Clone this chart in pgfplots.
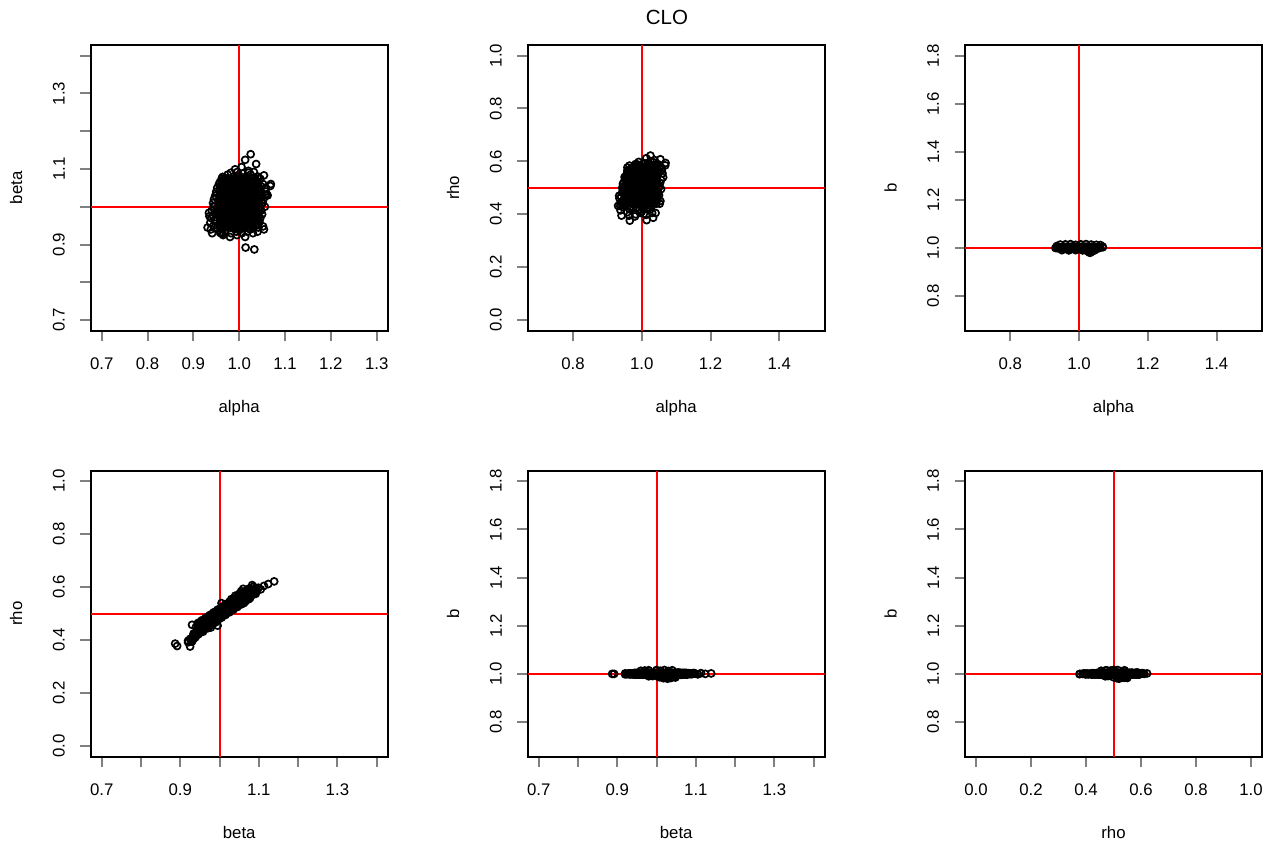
\documentclass[border=0pt]{standalone}
\usepackage{fontspec}
\setmainfont{Liberation Sans}
\usepackage{pgfplots}
\usepackage{pgfplotstable}
\pgfplotsset{compat=1.18}
\pgfplotstableread{
a be r bb
1.025 1.139 0.622 1.002
1.013 1.124 0.612 1.000
1.037 1.113 0.605 1.003
0.991 1.099 0.598 1.001
1.005 1.105 0.592 0.998
1.020 1.095 0.588 1.004
0.964 1.079 0.565 1.000
1.054 1.083 0.608 1.002
0.975 1.085 0.572 0.999
0.988 1.080 0.588 1.003
1.000 1.082 0.575 1.001
1.012 1.078 0.560 0.997
1.025 1.085 0.601 1.002
1.040 1.080 0.585 1.000
0.975 1.075 0.578 1.000
0.982 1.090 0.585 1.000
0.996 1.092 0.575 1.002
1.008 1.088 0.592 0.999
1.020 1.090 0.578 1.001
1.032 1.092 0.598 1.000
0.962 1.070 0.558 1.000
0.974 1.072 0.575 1.002
0.986 1.068 0.562 0.999
0.998 1.074 0.580 1.001
1.010 1.070 0.565 1.003
1.022 1.072 0.585 0.998
1.034 1.068 0.570 1.000
1.046 1.074 0.590 1.002
0.956 1.060 0.552 1.001
1.069 1.060 0.594 1.003
0.968 1.062 0.540 0.998
0.980 1.058 0.565 1.004
0.992 1.065 0.548 1.000
1.004 1.060 0.570 1.002
1.016 1.062 0.555 0.996
1.028 1.058 0.575 1.001
1.040 1.065 0.560 1.003
1.052 1.060 0.580 0.999
0.952 1.050 0.535 1.000
0.964 1.052 0.555 1.002
0.976 1.048 0.538 0.999
0.988 1.054 0.560 1.001
1.000 1.050 0.545 1.003
1.012 1.046 0.530 0.998
1.024 1.052 0.558 1.000
1.036 1.048 0.540 0.985
1.048 1.054 0.565 1.002
1.058 1.050 0.575 1.000
0.950 1.040 0.541 1.000
0.962 1.042 0.525 1.002
0.974 1.038 0.548 0.998
0.986 1.044 0.532 1.001
0.998 1.040 0.556 1.003
1.010 1.036 0.540 0.997
1.022 1.044 0.562 1.002
1.034 1.038 0.530 0.984
1.046 1.042 0.550 1.000
1.058 1.040 0.568 1.004
1.060 1.030 0.555 1.001
0.948 1.030 0.522 1.001
0.960 1.032 0.540 0.999
0.972 1.028 0.515 1.002
0.984 1.034 0.545 1.000
0.996 1.030 0.525 0.997
1.008 1.026 0.512 1.003
1.020 1.032 0.538 1.000
1.032 1.028 0.520 0.980
1.044 1.034 0.548 1.002
1.056 1.030 0.530 0.999
0.945 1.020 0.515 1.001
0.957 1.022 0.532 0.999
0.969 1.018 0.508 1.003
0.981 1.024 0.538 1.000
0.993 1.020 0.520 0.996
1.005 1.016 0.505 1.002
1.017 1.022 0.528 0.999
1.029 1.018 0.512 0.982
1.041 1.024 0.535 1.003
1.053 1.020 0.518 1.000
0.943 1.010 0.500 1.000
0.955 1.012 0.518 1.002
0.967 1.008 0.495 0.999
0.979 1.014 0.525 1.001
0.991 1.010 0.505 1.003
1.003 1.006 0.490 0.998
1.015 1.012 0.520 1.000
1.027 1.008 0.500 0.986
1.039 1.014 0.528 1.002
1.051 1.010 0.505 1.000
0.934 0.984 0.470 1.000
0.944 1.000 0.485 1.002
0.956 1.002 0.505 0.998
0.968 0.998 0.480 1.001
0.980 1.004 0.512 1.003
0.992 1.000 0.495 0.999
1.004 0.996 0.478 1.002
1.016 1.002 0.508 0.997
1.028 0.998 0.490 1.001
1.040 1.004 0.515 0.988
1.056 1.000 0.495 1.002
0.990 1.005 0.540 1.000
1.010 0.995 0.455 1.001
0.940 0.990 0.468 1.001
0.952 0.992 0.490 0.999
0.964 0.988 0.472 1.002
0.976 0.994 0.500 1.000
0.988 0.990 0.480 0.997
1.000 0.986 0.465 1.003
1.012 0.992 0.495 1.000
1.024 0.988 0.475 0.998
1.036 0.994 0.502 1.001
1.048 0.990 0.482 1.002
0.942 0.978 0.448 0.999
0.954 0.982 0.475 1.002
0.966 0.978 0.460 1.000
0.978 0.984 0.490 1.004
0.990 0.980 0.470 0.998
1.002 0.976 0.455 1.001
1.014 0.982 0.485 1.003
1.026 0.978 0.465 0.996
1.038 0.984 0.492 1.000
1.050 0.980 0.472 1.002
0.939 0.970 0.445 1.000
0.950 0.972 0.465 1.002
0.962 0.968 0.450 0.999
0.974 0.974 0.478 1.001
0.986 0.970 0.458 1.003
0.998 0.966 0.445 0.998
1.010 0.972 0.472 1.000
1.022 0.968 0.455 1.002
1.034 0.974 0.480 0.999
1.046 0.970 0.460 1.001
0.937 0.958 0.432 1.001
0.948 0.962 0.455 0.999
0.960 0.958 0.440 1.003
0.972 0.964 0.468 1.000
0.984 0.960 0.450 0.998
0.996 0.956 0.435 1.002
1.008 0.962 0.462 1.000
1.020 0.958 0.445 1.004
1.032 0.964 0.470 0.999
1.044 0.960 0.452 1.001
0.944 0.950 0.428 1.000
0.956 0.952 0.448 1.002
0.968 0.948 0.430 0.999
0.980 0.954 0.455 1.001
0.992 0.950 0.438 1.003
1.004 0.946 0.422 0.998
1.016 0.952 0.448 1.000
1.028 0.948 0.430 1.002
1.040 0.954 0.455 0.999
1.052 0.948 0.440 1.001
0.938 0.940 0.415 1.000
0.952 0.944 0.438 1.002
0.964 0.940 0.420 0.999
0.976 0.946 0.445 1.001
0.988 0.942 0.425 1.003
1.000 0.938 0.410 0.998
1.012 0.944 0.432 1.000
1.024 0.940 0.418 1.002
1.040 0.934 0.405 1.000
1.054 0.940 0.450 1.001
0.931 0.945 0.432 1.000
0.960 0.930 0.458 1.000
0.958 0.932 0.408 1.000
0.970 0.934 0.425 1.002
0.982 0.930 0.400 0.999
0.994 0.934 0.418 1.001
1.006 0.930 0.402 1.000
1.018 0.934 0.420 0.998
1.030 0.930 0.405 1.001
0.963 0.928 0.395 1.001
0.965 0.925 0.376 0.999
0.980 0.920 0.392 1.002
0.995 0.925 0.405 1.000
1.013 0.920 0.398 0.998
0.941 0.930 0.395 1.001
1.014 0.892 0.378 1.000
1.033 0.887 0.387 1.000
0.958 0.945 0.430 1.000
0.970 0.945 0.450 1.003
0.982 0.945 0.465 0.998
0.994 0.945 0.440 1.001
1.006 0.945 0.457 1.004
1.018 0.945 0.425 0.997
1.030 0.945 0.445 1.002
1.042 0.945 0.460 0.999
0.958 0.955 0.460 1.003
0.970 0.955 0.475 0.998
0.982 0.955 0.450 1.001
0.994 0.955 0.467 1.004
1.006 0.955 0.435 0.997
1.018 0.955 0.455 1.002
1.030 0.955 0.470 0.999
1.042 0.955 0.440 1.000
0.958 0.965 0.485 0.998
0.970 0.965 0.460 1.001
0.982 0.965 0.477 1.004
0.994 0.965 0.445 0.997
1.006 0.965 0.465 1.002
1.018 0.965 0.480 0.999
1.030 0.965 0.450 1.000
1.042 0.965 0.470 1.003
0.958 0.975 0.470 1.001
0.970 0.975 0.487 1.004
0.982 0.975 0.455 0.997
0.994 0.975 0.475 1.002
1.006 0.975 0.490 0.999
1.018 0.975 0.460 1.000
1.030 0.975 0.480 1.003
1.042 0.975 0.495 0.998
0.958 0.985 0.497 1.004
0.970 0.985 0.465 0.997
0.982 0.985 0.485 1.002
0.994 0.985 0.500 0.999
1.006 0.985 0.470 1.000
1.018 0.985 0.490 1.003
1.030 0.985 0.505 0.998
1.042 0.985 0.480 1.001
0.958 0.995 0.475 0.997
0.970 0.995 0.495 1.002
0.982 0.995 0.510 0.999
0.994 0.995 0.480 1.000
1.006 0.995 0.500 1.003
1.018 0.995 0.515 0.998
1.030 0.995 0.490 1.001
1.042 0.995 0.507 1.004
0.958 1.005 0.505 1.002
0.970 1.005 0.520 0.999
0.982 1.005 0.490 1.000
0.994 1.005 0.510 1.003
1.006 1.005 0.525 0.998
1.018 1.005 0.500 1.001
1.030 1.005 0.517 1.004
1.042 1.005 0.485 0.997
0.958 1.015 0.530 0.999
0.970 1.015 0.500 1.000
0.982 1.015 0.520 1.003
0.994 1.015 0.535 0.998
1.006 1.015 0.510 1.001
1.018 1.015 0.527 1.004
1.030 1.015 0.495 0.997
1.042 1.015 0.515 1.002
0.958 1.025 0.510 1.000
0.970 1.025 0.530 1.003
0.982 1.025 0.545 0.998
0.994 1.025 0.520 1.001
1.006 1.025 0.537 1.004
1.018 1.025 0.505 0.997
1.030 1.025 0.525 0.985
1.042 1.025 0.540 0.999
0.958 1.035 0.540 1.003
0.970 1.035 0.555 0.998
0.982 1.035 0.530 1.001
0.994 1.035 0.547 1.004
1.006 1.035 0.515 0.997
1.018 1.035 0.535 1.002
1.030 1.035 0.550 0.983
1.042 1.035 0.520 1.000
0.958 1.045 0.565 0.998
0.970 1.045 0.540 1.001
0.982 1.045 0.557 1.004
0.994 1.045 0.525 0.997
1.006 1.045 0.545 1.002
1.018 1.045 0.560 0.999
1.030 1.045 0.530 1.000
1.042 1.045 0.550 1.003
0.958 1.055 0.550 1.001
0.970 1.055 0.567 1.004
0.982 1.055 0.535 0.997
0.994 1.055 0.555 1.002
1.006 1.055 0.570 0.999
1.018 1.055 0.540 1.000
1.030 1.055 0.560 1.003
1.042 1.055 0.575 0.998
0.958 1.065 0.577 1.004
0.970 1.065 0.545 0.997
0.982 1.065 0.565 1.002
0.994 1.065 0.580 0.999
1.006 1.065 0.550 1.000
1.018 1.065 0.570 1.003
1.030 1.065 0.585 0.998
1.042 1.065 0.560 1.001
0.962 1.075 0.555 0.997
0.970 1.075 0.575 1.002
0.982 1.075 0.590 0.999
0.994 1.075 0.560 1.000
1.006 1.075 0.580 1.003
1.018 1.075 0.595 0.998
1.030 1.075 0.570 1.001
1.042 1.075 0.587 1.004
0.964 0.950 0.460 1.001
0.976 0.950 0.438 0.999
0.988 0.950 0.453 1.003
1.000 0.950 0.468 0.998
1.012 0.950 0.442 1.002
1.024 0.950 0.464 1.000
1.036 0.950 0.447 1.004
0.964 0.960 0.448 0.999
0.976 0.960 0.463 1.003
0.988 0.960 0.478 0.998
1.000 0.960 0.452 1.002
1.012 0.960 0.474 1.000
1.024 0.960 0.457 1.004
1.036 0.960 0.470 1.001
0.964 0.970 0.473 1.003
0.976 0.970 0.488 0.998
0.988 0.970 0.462 1.002
1.000 0.970 0.484 1.000
1.012 0.970 0.467 1.004
1.024 0.970 0.480 1.001
1.036 0.970 0.458 0.999
0.964 0.980 0.498 0.998
0.976 0.980 0.472 1.002
0.988 0.980 0.494 1.000
1.000 0.980 0.477 1.004
1.012 0.980 0.490 1.001
1.024 0.980 0.468 0.999
1.036 0.980 0.483 1.003
0.964 0.990 0.482 1.002
0.976 0.990 0.504 1.000
0.988 0.990 0.487 1.004
1.000 0.990 0.500 1.001
1.012 0.990 0.478 0.999
1.024 0.990 0.493 1.003
1.036 0.990 0.508 0.998
0.964 1.000 0.514 1.000
0.976 1.000 0.497 1.004
0.988 1.000 0.510 1.001
1.000 1.000 0.488 0.999
1.012 1.000 0.503 1.003
1.024 1.000 0.518 0.998
1.036 1.000 0.492 1.002
0.964 1.010 0.507 1.004
0.976 1.010 0.520 1.001
0.988 1.010 0.498 0.999
1.000 1.010 0.513 1.003
1.012 1.010 0.528 0.998
1.024 1.010 0.502 1.002
1.036 1.010 0.524 1.000
0.964 1.020 0.530 1.001
0.976 1.020 0.508 0.999
0.988 1.020 0.523 1.003
1.000 1.020 0.538 0.998
1.012 1.020 0.512 1.002
1.024 1.020 0.534 0.987
1.036 1.020 0.517 1.004
0.964 1.030 0.518 0.999
0.976 1.030 0.533 1.003
0.988 1.030 0.548 0.998
1.000 1.030 0.522 1.002
1.012 1.030 0.544 1.000
1.024 1.030 0.527 1.004
1.036 1.030 0.540 0.984
0.964 1.040 0.543 1.003
0.976 1.040 0.558 0.998
0.988 1.040 0.532 1.002
1.000 1.040 0.554 1.000
1.012 1.040 0.537 1.004
1.024 1.040 0.550 1.001
1.036 1.040 0.528 0.999
0.964 1.050 0.568 0.998
0.976 1.050 0.542 1.002
0.988 1.050 0.564 1.000
1.000 1.050 0.547 1.004
1.012 1.050 0.560 1.001
1.024 1.050 0.538 0.999
1.036 1.050 0.553 1.003
0.964 1.060 0.552 1.002
0.976 1.060 0.574 1.000
0.988 1.060 0.557 1.004
1.000 1.060 0.570 1.001
1.012 1.060 0.548 0.999
1.024 1.060 0.563 1.003
1.036 1.060 0.578 0.998
0.964 1.070 0.584 1.000
0.976 1.070 0.567 1.004
0.988 1.070 0.580 1.001
1.000 1.070 0.558 0.999
1.012 1.070 0.573 1.003
1.024 1.070 0.588 0.998
1.036 1.070 0.562 1.002
0.945 1.000 0.490 1.014
0.960 0.980 0.475 1.015
0.975 1.020 0.515 1.016
0.990 0.960 0.455 1.013
1.005 1.040 0.540 1.015
1.020 1.000 0.500 1.016
1.035 0.970 0.470 1.014
1.050 1.010 0.505 1.013
1.062 1.030 0.540 1.012
0.950 0.990 0.480 0.991
0.970 1.030 0.525 0.990
0.990 1.050 0.550 0.991
1.010 0.980 0.470 0.990
1.045 1.020 0.520 0.990
0.935 0.975 0.460 1.008
1.068 1.055 0.585 1.006
}\dat
\pgfplotsset{
  rplot/.style={
    scale only axis, width=297bp, height=286bp, anchor=south west,
    axis line style={line width=1.7bp},
    xtick pos=left, ytick pos=left,
    tick align=outside, major tick length=10.5bp,
    tick style={line width=2bp},
    minor tick num=0,
    xticklabel style={font=\fontsize{16.8bp}{20bp}\selectfont, inner sep=0pt, anchor=north},
    yticklabel style={font=\fontsize{16.8bp}{20bp}\selectfont, inner sep=0pt, rotate=90, anchor=south},
    xticklabel shift=16.8bp, yticklabel shift=15.2bp,
    label style={font=\fontsize{16.8bp}{20bp}\selectfont},
    xlabel style={at={(axis description cs:0.5,-0.287)}, anchor=base},
    ylabel style={at={(axis description cs:-0.2306,0.5)}, rotate=0, anchor=base},
    enlargelimits=false,
  },
  pts/.style={only marks, mark=o, mark size=3.5bp, mark options={line width=1.7bp}},
}
\newcommand{\vref}[3]{\fill[red] ([xshift=-1bp]axis cs:#1,#2) rectangle ([xshift=1bp]axis cs:#1,#3);}
\newcommand{\href}[3]{\fill[red] ([yshift=-1bp]axis cs:#2,#1) rectangle ([yshift=1bp]axis cs:#3,#1);}
\begin{document}
\begin{tikzpicture}
\useasboundingbox (0,0) rectangle (1273bp,845bp);
\node[font=\fontsize{20.5bp}{24bp}\selectfont] at (667bp,828bp) {CLO};
% panel 1
\begin{axis}[rplot, at={(90.7bp,514.3bp)}, height=285.7bp,
  xmin=0.676, xmax=1.324, ymin=0.672, ymax=1.428,
  xtick={0.7,0.8,0.9,1.0,1.1,1.2,1.3}, xticklabels={0.7,0.8,0.9,1.0,1.1,1.2,1.3},
  ytick={0.7,0.8,0.9,1.0,1.1,1.2,1.3,1.4}, yticklabels={0.7,,0.9,,1.1,,1.3,},
  xlabel={alpha}, ylabel={beta}]
\addplot[pts] table[x=a, y=be] {\dat};
\vref{1}{0.672}{1.428}
\href{1}{0.676}{1.324}
\end{axis}
% panel 2
\begin{axis}[rplot, at={(527.7bp,514.3bp)}, height=285.7bp,
  xmin=0.668, xmax=1.532, ymin=-0.04, ymax=1.04,
  xtick={0.8,1.0,1.2,1.4}, xticklabels={0.8,1.0,1.2,1.4},
  ytick={0,0.2,0.4,0.6,0.8,1.0}, yticklabels={0.0,0.2,0.4,0.6,0.8,1.0},
  xlabel={alpha}, ylabel={rho}]
\addplot[pts] table[x=a, y=r] {\dat};
\vref{1}{-0.04}{1.04}
\href{0.5}{0.668}{1.532}
\end{axis}
% panel 3
\begin{axis}[rplot, at={(965bp,514.3bp)}, height=285.7bp,
  xmin=0.668, xmax=1.532, ymin=0.656, ymax=1.844,
  xtick={0.8,1.0,1.2,1.4}, xticklabels={0.8,1.0,1.2,1.4},
  ytick={0.8,1.0,1.2,1.4,1.6,1.8}, yticklabels={0.8,1.0,1.2,1.4,1.6,1.8},
  xlabel={alpha}, ylabel={b}]
\addplot[pts] table[x=a, y=bb] {\dat};
\vref{1}{0.656}{1.844}
\href{1}{0.668}{1.532}
\end{axis}
% panel 4
\begin{axis}[rplot, at={(90.7bp,88.3bp)},
  xmin=0.672, xmax=1.428, ymin=-0.04, ymax=1.04,
  xtick={0.7,0.8,0.9,1.0,1.1,1.2,1.3,1.4}, xticklabels={0.7,,0.9,,1.1,,1.3,},
  ytick={0,0.2,0.4,0.6,0.8,1.0}, yticklabels={0.0,0.2,0.4,0.6,0.8,1.0},
  xlabel={beta}, ylabel={rho}]
\addplot[pts] table[x=be, y=r] {\dat};
\vref{1}{-0.04}{1.04}
\href{0.5}{0.672}{1.428}
\end{axis}
% panel 5
\begin{axis}[rplot, at={(527.7bp,88.3bp)},
  xmin=0.672, xmax=1.428, ymin=0.656, ymax=1.844,
  xtick={0.7,0.8,0.9,1.0,1.1,1.2,1.3,1.4}, xticklabels={0.7,,0.9,,1.1,,1.3,},
  ytick={0.8,1.0,1.2,1.4,1.6,1.8}, yticklabels={0.8,1.0,1.2,1.4,1.6,1.8},
  xlabel={beta}, ylabel={b}]
\addplot[pts] table[x=be, y=bb] {\dat};
\vref{1}{0.656}{1.844}
\href{1}{0.672}{1.428}
\end{axis}
% panel 6
\begin{axis}[rplot, at={(965bp,88.3bp)},
  xmin=-0.04, xmax=1.04, ymin=0.656, ymax=1.844,
  xtick={0,0.2,0.4,0.6,0.8,1.0}, xticklabels={0.0,0.2,0.4,0.6,0.8,1.0},
  ytick={0.8,1.0,1.2,1.4,1.6,1.8}, yticklabels={0.8,1.0,1.2,1.4,1.6,1.8},
  xlabel={rho}, ylabel={b}]
\addplot[pts] table[x=r, y=bb] {\dat};
\vref{0.5}{0.656}{1.844}
\href{1}{-0.04}{1.04}
\end{axis}
\end{tikzpicture}
\end{document}
